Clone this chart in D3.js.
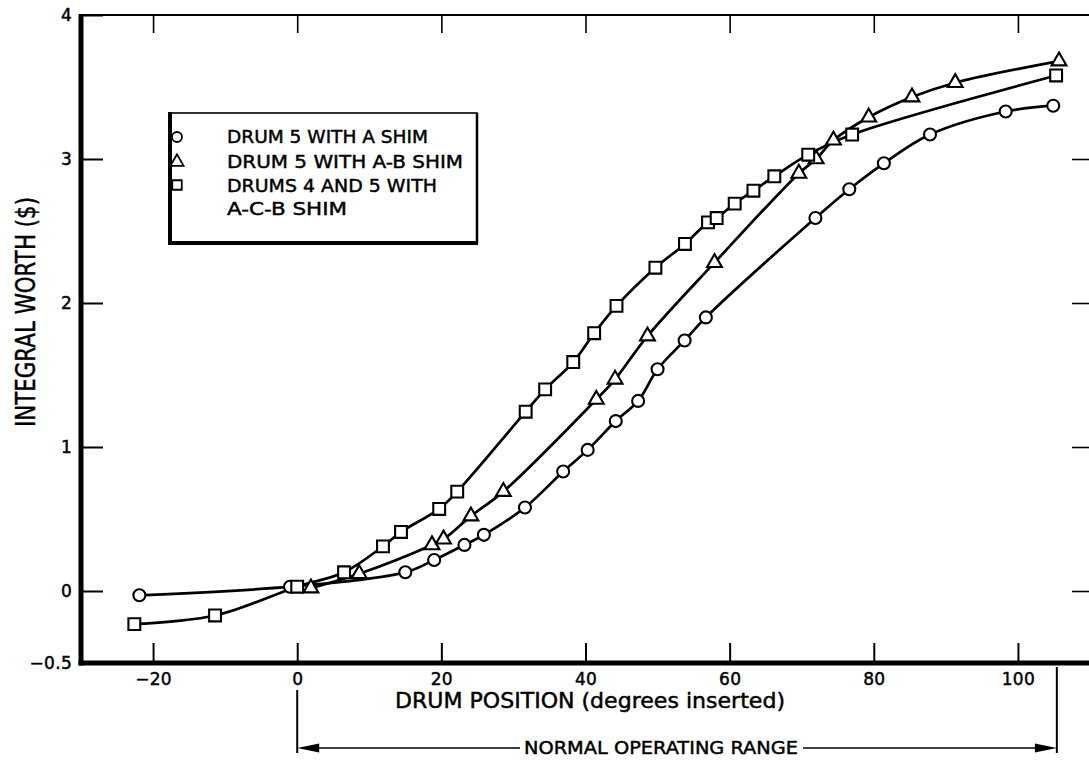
<!DOCTYPE html>
<html>
<head>
<meta charset="utf-8">
<script src="https://cdn.jsdelivr.net/npm/d3@7"></script>
<style>
  html, body { margin: 0; padding: 0; background: #fff; }
  svg { display: block; }
  text { font-family: "DejaVu Sans", "Liberation Sans", Arial, sans-serif; fill: #000; stroke: #000; stroke-width: 0.45px; }
</style>
</head>
<body>
<svg id="chart" width="1089" height="761"></svg>
<script>
// ---- data ----
const xTicks = [-20, 0, 20, 40, 60, 80, 100];
const yTicks = [-0.5, 0, 1, 2, 3, 4];
const yTickLabels = ["\u22120.5", "0", "1", "2", "3", "4"];

const seriesNames = [
  ["DRUM 5 WITH A SHIM"],
  ["DRUM 5 WITH A-B SHIM"],
  ["DRUMS 4 AND 5 WITH", "A-C-B SHIM"]
];

// Drum 5 with A shim (circles)
const circleX = [-21.9, -1.0, 15.0, 19.0, 23.2, 25.9, 31.6, 36.9, 40.3, 44.2, 47.3, 50.0, 53.75, 56.7, 71.9, 76.6, 81.4, 87.8, 98.3, 104.9];
const circleY = [-0.03, 0.03, 0.13, 0.215, 0.32, 0.39, 0.58, 0.83, 0.98, 1.18, 1.32, 1.54, 1.74, 1.90, 2.59, 2.79, 2.97, 3.17, 3.33, 3.37];

// Drum 5 with A-B shim (triangles)
const triX = [1.9, 8.6, 18.7, 20.3, 24.1, 28.6, 41.5, 44.1, 48.6, 57.9, 69.6, 72.0, 74.4, 79.3, 85.3, 91.3, 105.7];
const triY = [0.02, 0.12, 0.32, 0.36, 0.52, 0.69, 1.33, 1.47, 1.77, 2.28, 2.90, 3.00, 3.13, 3.29, 3.43, 3.53, 3.68];

// Drums 4 and 5 with A-C-B shim (squares)
const sqX = [-22.6, -11.4, 0.0, 6.5, 11.9, 14.4, 19.7, 22.2, 31.7, 34.4, 38.3, 41.2, 44.3, 49.7, 53.8, 57.0, 58.2, 60.7, 63.3, 66.2, 70.9, 77.0, 105.3];
const sqY = [-0.23, -0.17, 0.03, 0.13, 0.31, 0.41, 0.57, 0.69, 1.245, 1.40, 1.59, 1.79, 1.98, 2.245, 2.41, 2.56, 2.59, 2.69, 2.78, 2.88, 3.03, 3.17, 3.58];

const rangeStart = 0, rangeEnd = 105.4;

// ---- layout ----
const FONT = "'DejaVu Sans', 'Liberation Sans', Arial, sans-serif";
const svg = d3.select("#chart");
const mLeft = 81, mRight = 1090, mTop = 15, mBottom = 663;
const x = d3.scaleLinear().domain([-30, 110]).range([mLeft, mRight]);
const y = d3.scaleLinear().domain([-0.5, 4]).range([mBottom, mTop]);

svg.append("rect").attr("width", 1089).attr("height", 761).attr("fill", "#fff");

// bottom axis
const xAxis = svg.append("g").attr("transform", `translate(0,${mBottom})`)
  .call(d3.axisBottom(x).tickValues(xTicks).tickSizeInner(-20).tickSizeOuter(0).tickPadding(10)
    .tickFormat(d => d < 0 ? "\u2212" + Math.abs(d) : String(d)));
xAxis.select(".domain").remove();
xAxis.selectAll(".tick line").attr("stroke", "#000").attr("stroke-width", 2);
xAxis.selectAll(".tick text").attr("font-size", 17).attr("letter-spacing", "0.3px")
  .style("font-family", FONT);

// top ticks
const xTop = svg.append("g").attr("transform", `translate(0,${mTop})`)
  .call(d3.axisTop(x).tickValues(xTicks).tickSizeInner(-18).tickSizeOuter(0).tickFormat(""));
xTop.select(".domain").remove();
xTop.selectAll(".tick line").attr("stroke", "#000").attr("stroke-width", 1.6);

// left axis
const yAxis = svg.append("g").attr("transform", `translate(${mLeft},0)`)
  .call(d3.axisLeft(y).tickValues(yTicks).tickSizeInner(-22).tickSizeOuter(0).tickPadding(9)
    .tickFormat((d, i) => yTickLabels[i]));
yAxis.select(".domain").remove();
yAxis.selectAll(".tick line").attr("stroke", "#000").attr("stroke-width", 2)
  .attr("display", d => d === -0.5 ? "none" : null);
yAxis.selectAll(".tick text").attr("font-size", 17).attr("letter-spacing", "0.3px")
  .style("font-family", FONT);

// right ticks
const yRight = svg.append("g").attr("transform", `translate(${mRight},0)`)
  .call(d3.axisRight(y).tickValues([0, 1, 2, 3]).tickSizeInner(-18).tickSizeOuter(0).tickFormat(""));
yRight.select(".domain").remove();
yRight.selectAll(".tick line").attr("stroke", "#000").attr("stroke-width", 1.6);

// frame
svg.append("line").attr("x1", mLeft).attr("x2", mRight).attr("y1", mTop).attr("y2", mTop)
  .attr("stroke", "#000").attr("stroke-width", 2);
svg.append("line").attr("x1", mLeft).attr("x2", mLeft).attr("y1", mTop - 1).attr("y2", mBottom + 2.5)
  .attr("stroke", "#000").attr("stroke-width", 5);
svg.append("line").attr("x1", mLeft - 2.5).attr("x2", mRight).attr("y1", mBottom).attr("y2", mBottom)
  .attr("stroke", "#000").attr("stroke-width", 5);

// axis titles
svg.append("text").attr("x", 395).attr("y", 708).attr("font-size", 20.5)
  .attr("textLength", 390).attr("lengthAdjust", "spacingAndGlyphs")
  .text("DRUM POSITION (degrees inserted)");
svg.append("text").attr("transform", "translate(35,427) rotate(-90)").attr("font-size", 27)
  .attr("textLength", 230).attr("lengthAdjust", "spacingAndGlyphs")
  .text("INTEGRAL WORTH ($)");

// curves
const line = d3.line().x(d => x(d[0])).y(d => y(d[1])).curve(d3.curveCatmullRom.alpha(0.5));
const series = [
  { xs: circleX, ys: circleY, sym: d3.symbolCircle, size: 113 },
  { xs: triX, ys: triY, sym: d3.symbolTriangle, size: 95 },
  { xs: sqX, ys: sqY, sym: d3.symbolSquare, size: 140 }
];
series.forEach(s => {
  const pts = s.xs.map((v, i) => [v, s.ys[i]]);
  svg.append("path").datum(pts).attr("d", line).attr("fill", "none")
    .attr("stroke", "#000").attr("stroke-width", 2.7).attr("stroke-linejoin", "round");
});
series.forEach(s => {
  const pts = s.xs.map((v, i) => [v, s.ys[i]]);
  svg.append("g").selectAll("path").data(pts).join("path")
    .attr("transform", d => `translate(${x(d[0])},${y(d[1])})`)
    .attr("d", d3.symbol().type(s.sym).size(s.size))
    .attr("fill", "#fff").attr("stroke", "#000").attr("stroke-width", 2.1);
});

// legend
const lg = svg.append("g");
lg.append("rect").attr("x", 170).attr("y", 113).attr("width", 307).attr("height", 130)
  .attr("fill", "#fff").attr("stroke", "#000").attr("stroke-width", 1.6);
lg.append("line").attr("x1", 170).attr("x2", 170).attr("y1", 112).attr("y2", 245)
  .attr("stroke", "#000").attr("stroke-width", 4);
lg.append("line").attr("x1", 168).attr("x2", 478).attr("y1", 243).attr("y2", 243)
  .attr("stroke", "#000").attr("stroke-width", 4);
lg.append("line").attr("x1", 477).attr("x2", 477).attr("y1", 113).attr("y2", 243)
  .attr("stroke", "#000").attr("stroke-width", 2.5);

const legSyms = [
  { sym: d3.symbolCircle, size: 78, cy: 137 },
  { sym: d3.symbolTriangle, size: 75, cy: 162 },
  { sym: d3.symbolSquare, size: 90, cy: 185 }
];
legSyms.forEach(s => {
  lg.append("path").attr("transform", `translate(177,${s.cy})`)
    .attr("d", d3.symbol().type(s.sym).size(s.size))
    .attr("fill", "#fff").attr("stroke", "#000").attr("stroke-width", 1.8);
});
const legRows = [
  { t: seriesNames[0][0], y: 143, w: 201 },
  { t: seriesNames[1][0], y: 168, w: 236 },
  { t: seriesNames[2][0], y: 192, w: 210 },
  { t: seriesNames[2][1], y: 215, w: 120 }
];
legRows.forEach(r => {
  lg.append("text").attr("x", 227).attr("y", r.y).attr("font-size", 18)
    .attr("textLength", r.w).attr("lengthAdjust", "spacingAndGlyphs").text(r.t);
});

// normal operating range annotation
const ry = 748;
const xs0 = x(rangeStart), xs1 = x(rangeEnd);
svg.append("line").attr("x1", xs0).attr("x2", xs0).attr("y1", 690).attr("y2", 753)
  .attr("stroke", "#000").attr("stroke-width", 2);
svg.append("line").attr("x1", xs1).attr("x2", xs1).attr("y1", 667).attr("y2", 753)
  .attr("stroke", "#000").attr("stroke-width", 2);
svg.append("line").attr("x1", xs0 + 10).attr("x2", 520).attr("y1", ry).attr("y2", ry)
  .attr("stroke", "#000").attr("stroke-width", 1.6);
svg.append("line").attr("x1", 803).attr("x2", xs1 - 10).attr("y1", ry).attr("y2", ry)
  .attr("stroke", "#000").attr("stroke-width", 1.6);
svg.append("path").attr("d", `M${xs0},${ry} L${xs0 + 22},${ry - 4.5} L${xs0 + 22},${ry + 4.5} Z`).attr("fill", "#000");
svg.append("path").attr("d", `M${xs1},${ry} L${xs1 - 22},${ry - 4.5} L${xs1 - 22},${ry + 4.5} Z`).attr("fill", "#000");
svg.append("text").attr("x", 524).attr("y", 754).attr("font-size", 17.5)
  .attr("textLength", 274).attr("lengthAdjust", "spacingAndGlyphs")
  .text("NORMAL OPERATING RANGE");
</script>
</body>
</html>
